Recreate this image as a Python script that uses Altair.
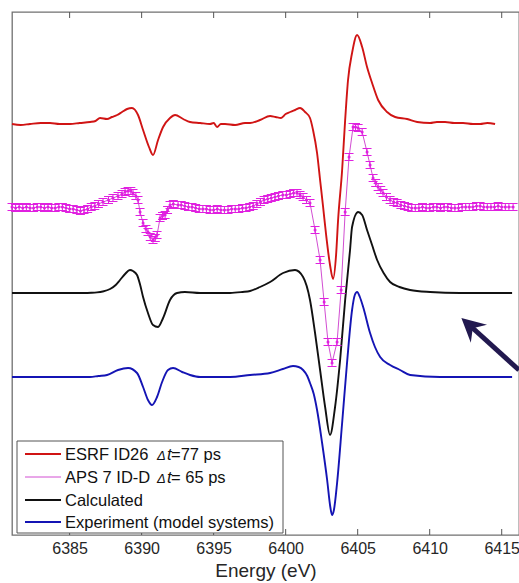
import altair as alt
import pandas as pd

FONT = "Liberation Sans"

# Energy axis (eV)
X_DOMAIN = [6381.0, 6416.2]
X_TICKS = [6385, 6390, 6395, 6400, 6405, 6410, 6415]

# Vertical offsets of the stacked spectra (arb. units)
OFFSETS = {"esrf": 4.11, "aps": 3.28, "calc": 2.42, "exp": 1.58}

# ESRF ID26, Δt = 77 ps  (energy, signal)
ESRF = [(6381.0, 0.00), (6381.6, -0.01), (6382.25, 0.00), (6383.0, 0.01), (6383.64, 0.01),
        (6384.3, 0.00), (6385.03, 0.00), (6385.7, 0.01), (6386.42, 0.02), (6386.8, 0.03),
        (6387.11, 0.06), (6387.6, 0.05), (6387.94, 0.07), (6388.3, 0.09), (6388.64, 0.12),
        (6388.99, 0.15), (6389.33, 0.16), (6389.75, 0.09), (6390.10, -0.06), (6390.51, -0.23),
        (6390.79, -0.31), (6391.14, -0.16), (6391.49, -0.03), (6391.97, 0.06), (6392.32, 0.09),
        (6392.88, 0.05), (6393.36, 0.02), (6394.06, 0.01), (6394.75, 0.00), (6395.0, 0.01),
        (6395.24, -0.03), (6395.5, 0.00), (6395.79, 0.00), (6396.49, -0.01), (6397.18, 0.01),
        (6397.53, 0.01), (6398.22, 0.04), (6398.92, 0.08), (6399.3, 0.07), (6399.68, 0.06),
        (6400.0, 0.10), (6400.31, 0.12), (6400.65, 0.14), (6401.00, 0.16), (6401.35, 0.12),
        (6401.69, 0.06), (6401.90, -0.06), (6402.18, -0.29), (6402.39, -0.56), (6402.60, -0.83),
        (6402.81, -1.11), (6403.08, -1.41), (6403.29, -1.55), (6403.50, -1.31), (6403.64, -0.96),
        (6403.92, -0.46), (6404.13, 0.04), (6404.33, 0.44), (6404.61, 0.71), (6404.96, 0.89),
        (6405.31, 0.77), (6405.65, 0.57), (6406.00, 0.41), (6406.42, 0.24), (6407.04, 0.12),
        (6407.60, 0.07), (6408.43, 0.05), (6409.13, 0.02), (6410.03, 0.01), (6410.5, 0.02),
        (6411.07, 0.02), (6411.7, 0.01), (6412.32, 0.01), (6413.0, 0.00), (6413.50, 0.00),
        (6414.0, 0.01), (6414.54, 0.00)]

# APS 7 ID-D, Δt = 65 ps  (energy, signal) measured points
APS = [(6381.0, 0.00), (6381.25, -0.01), (6381.5, 0.00), (6381.75, -0.01), (6382.0, 0.00),
       (6382.25, -0.01), (6382.5, -0.01), (6382.75, 0.00), (6383.0, 0.00), (6383.25, -0.01),
       (6383.5, 0.00), (6383.75, -0.01), (6384.0, -0.01), (6384.25, 0.00), (6384.5, 0.00),
       (6384.75, -0.01), (6385.0, -0.02), (6385.25, -0.02), (6385.5, -0.03), (6385.75, -0.04),
       (6386.0, -0.03), (6386.25, -0.02), (6386.5, 0.00), (6386.75, 0.01), (6387.0, 0.03),
       (6387.32, 0.05), (6387.7, 0.07), (6388.01, 0.09), (6388.36, 0.11), (6388.64, 0.13),
       (6388.85, 0.15), (6389.06, 0.16), (6389.25, 0.16), (6389.40, 0.14), (6389.6, 0.11),
       (6389.75, 0.07), (6389.89, -0.05), (6390.10, -0.16), (6390.3, -0.22), (6390.44, -0.25),
       (6390.6, -0.30), (6390.79, -0.33), (6390.95, -0.31), (6391.07, -0.28), (6391.28, -0.11),
       (6391.45, -0.09), (6391.63, -0.08), (6391.8, -0.03), (6391.97, 0.02), (6392.2, 0.03),
       (6392.53, 0.02), (6392.75, 0.02), (6393.0, 0.01), (6393.25, 0.00), (6393.5, 0.00),
       (6393.75, -0.01), (6394.0, -0.02), (6394.25, -0.02), (6394.5, -0.02), (6394.75, -0.03),
       (6395.0, -0.03), (6395.25, -0.02), (6395.5, -0.03), (6395.75, -0.03), (6396.0, -0.03),
       (6396.25, -0.02), (6396.5, -0.02), (6396.75, -0.02), (6397.0, -0.01), (6397.25, -0.01),
       (6397.5, 0.00), (6397.75, 0.01), (6398.0, 0.03), (6398.25, 0.05), (6398.5, 0.07),
       (6398.75, 0.08), (6399.0, 0.09), (6399.26, 0.10), (6399.5, 0.11), (6399.8, 0.12),
       (6400.05, 0.12), (6400.31, 0.13), (6400.55, 0.14), (6400.79, 0.14), (6401.0, 0.12),
       (6401.21, 0.10), (6401.45, 0.07), (6401.69, 0.04), (6402.04, -0.23), (6402.39, -0.53),
       (6402.67, -0.95), (6402.94, -1.35), (6403.22, -1.56), (6403.57, -1.35), (6403.85, -0.83),
       (6404.13, -0.05), (6404.40, 0.50), (6404.68, 0.80), (6404.85, 0.80), (6405.03, 0.79),
       (6405.31, 0.75), (6405.65, 0.55), (6405.86, 0.42), (6406.07, 0.29), (6406.25, 0.24),
       (6406.42, 0.20), (6406.6, 0.17), (6406.76, 0.14), (6407.0, 0.10), (6407.25, 0.07),
       (6407.5, 0.05), (6407.74, 0.04), (6408.0, 0.02), (6408.25, 0.01), (6408.5, 0.00),
       (6408.75, -0.01), (6409.0, -0.01), (6409.25, -0.01), (6409.5, 0.00), (6409.75, -0.01),
       (6410.0, -0.01), (6410.25, 0.00), (6410.5, 0.00), (6410.75, -0.01), (6411.0, 0.00),
       (6411.25, 0.00), (6411.5, -0.01), (6411.75, -0.01), (6412.0, -0.01), (6412.25, 0.00),
       (6412.5, 0.00), (6412.75, 0.00), (6413.0, 0.00), (6413.25, 0.01), (6413.5, 0.01),
       (6413.75, 0.00), (6414.0, 0.00), (6414.25, 0.00), (6414.5, 0.00), (6414.75, 0.01),
       (6415.0, 0.00), (6415.25, 0.00), (6415.5, 0.00), (6415.79, 0.00)]
APS_ERR = 0.035

# Calculated difference spectrum (energy, signal)
CALC = [(6381.0, 0.00), (6383.0, 0.00), (6385.0, 0.00), (6386.0, 0.00), (6386.5, 0.002),
        (6386.9, 0.006), (6387.3, 0.015), (6387.81, 0.04), (6388.2, 0.08), (6388.50, 0.13),
        (6388.85, 0.19), (6389.19, 0.23), (6389.40, 0.22), (6389.68, 0.18), (6389.9, 0.08),
        (6390.10, -0.04), (6390.44, -0.20), (6390.79, -0.32), (6391.14, -0.34), (6391.49, -0.25),
        (6391.97, -0.07), (6392.46, 0.00), (6393.01, 0.01), (6394.06, 0.00), (6396.14, 0.00),
        (6397.0, 0.01), (6397.53, 0.02), (6398.22, 0.06), (6398.92, 0.11), (6399.82, 0.20),
        (6400.65, 0.23), (6401.21, 0.16), (6401.69, -0.07), (6402.04, -0.40), (6402.39, -0.77),
        (6402.74, -1.14), (6403.08, -1.42), (6403.43, -1.14), (6403.78, -0.67), (6404.13, -0.07),
        (6404.47, 0.43), (6404.61, 0.66), (6405.03, 0.81), (6405.31, 0.78), (6405.65, 0.63),
        (6406.0, 0.48), (6406.35, 0.33), (6406.8, 0.20), (6407.25, 0.11), (6407.9, 0.06),
        (6408.64, 0.03), (6410.03, 0.01), (6412.11, 0.00), (6415.72, 0.00)]

# Experiment (model systems) (energy, signal)
EXP = [(6381.0, 0.00), (6383.0, 0.00), (6385.0, 0.00), (6386.42, 0.00), (6387.0, 0.01),
       (6387.60, 0.02), (6388.36, 0.07), (6389.06, 0.09), (6389.68, 0.04), (6390.10, -0.10),
       (6390.44, -0.23), (6390.72, -0.28), (6391.07, -0.20), (6391.42, -0.05), (6391.83, 0.07),
       (6392.18, 0.09), (6392.81, 0.05), (6393.36, 0.02), (6394.06, 0.00), (6396.14, 0.00),
       (6397.53, 0.02), (6398.92, 0.04), (6399.8, 0.08), (6400.51, 0.11), (6400.9, 0.10),
       (6401.21, 0.07), (6401.5, 0.01), (6401.69, -0.06), (6401.95, -0.17), (6402.18, -0.33),
       (6402.53, -0.66), (6402.88, -1.03), (6403.1, -1.30), (6403.22, -1.38), (6403.35, -1.33),
       (6403.57, -1.06), (6403.92, -0.46), (6404.26, 0.14), (6404.61, 0.67), (6404.8, 0.82),
       (6404.96, 0.85), (6405.15, 0.80), (6405.38, 0.70), (6405.86, 0.44), (6406.2, 0.30),
       (6406.56, 0.20), (6407.25, 0.12), (6407.94, 0.07), (6408.64, 0.02), (6410.72, 0.00),
       (6415.72, 0.00)]

# Annotation arrow (energy, offset units)
ARROW_TAIL = (6416.2, 1.65)
ARROW_SHAFT_END = (6412.75, 2.10)
ARROW_TIP = (6412.2, 2.17)

COLORS = {"esrf": "#d01414", "aps": "#e020e0", "aps_line": "#d24ed2",
          "calc": "#111111", "exp": "#1414b4", "arrow": "#22194f"}

LEGEND_ROWS = [
    ("ESRF ID26", "=77 ps", COLORS["esrf"], 1.8),
    ("APS 7 ID-D", "= 65 ps", COLORS["aps_line"], 1.0),
    ("Calculated", "", COLORS["calc"], 1.8),
    ("Experiment (model systems)", "", COLORS["exp"], 1.8),
]


def spectrum(points, key):
    return pd.DataFrame({"E": [p[0] for p in points],
                         "y": [p[1] + OFFSETS[key] for p in points]})


x_enc = alt.X("E:Q", scale=alt.Scale(domain=X_DOMAIN, nice=False, zero=False),
              axis=alt.Axis(values=X_TICKS, format="d", title="Energy (eV)", ticks=False,
                            domain=False, grid=False, labelFontSize=16, labelPadding=5,
                            labelColor="#262626", titleFontSize=19, titleFontWeight="normal",
                            titleColor="#262626", titlePadding=5, labelFont=FONT, titleFont=FONT))
y_scale = alt.Scale(domain=[0, 5.23], nice=False, zero=False)


def y_enc(field):
    return alt.Y(f"{field}:Q", scale=y_scale, axis=None)


esrf = spectrum(ESRF, "esrf")
calc = spectrum(CALC, "calc")
expt = spectrum(EXP, "exp")
aps = spectrum(APS, "aps")
aps["lo"] = aps["y"] - APS_ERR
aps["hi"] = aps["y"] + APS_ERR

layers = []

# inward tick marks on top and bottom edges
tick_df = pd.DataFrame({"E": X_TICKS})
layers.append(alt.Chart(tick_df).mark_rule(color="#555555", strokeWidth=1).encode(
    x=x_enc, y=alt.value(523), y2=alt.value(517)))
layers.append(alt.Chart(tick_df).mark_rule(color="#555555", strokeWidth=1).encode(
    x=x_enc, y=alt.value(0), y2=alt.value(6)))

layers.append(alt.Chart(expt).mark_line(color=COLORS["exp"], strokeWidth=1.9,
                                        interpolate="monotone").encode(x=x_enc, y=y_enc("y")))
layers.append(alt.Chart(calc).mark_line(color=COLORS["calc"], strokeWidth=1.9,
                                        interpolate="monotone").encode(x=x_enc, y=y_enc("y")))

# APS data: connecting line, error bars with caps, markers
layers.append(alt.Chart(aps).mark_line(color=COLORS["aps_line"], strokeWidth=1).encode(x=x_enc, y=y_enc("y")))
layers.append(alt.Chart(aps).mark_rule(color=COLORS["aps"], strokeWidth=1).encode(
    x=x_enc, y=y_enc("lo"), y2="hi:Q"))
for cap in ("lo", "hi"):
    layers.append(alt.Chart(aps).mark_tick(color=COLORS["aps"], orient="horizontal", size=9,
                                           thickness=1, opacity=1).encode(x=x_enc, y=y_enc(cap)))
layers.append(alt.Chart(aps).mark_point(color=COLORS["aps"], filled=True, size=9, opacity=1).encode(
    x=x_enc, y=y_enc("y")))

layers.append(alt.Chart(esrf).mark_line(color=COLORS["esrf"], strokeWidth=1.9,
                                        interpolate="monotone").encode(x=x_enc, y=y_enc("y")))

# annotation arrow
shaft = pd.DataFrame({"E": [ARROW_TAIL[0]], "y": [ARROW_TAIL[1]],
                      "E2": [ARROW_SHAFT_END[0]], "y2": [ARROW_SHAFT_END[1]]})
layers.append(alt.Chart(shaft).mark_rule(color=COLORS["arrow"], strokeWidth=5, strokeCap="butt").encode(
    x=x_enc, y=y_enc("y"), x2="E2:Q", y2="y2:Q"))
head = pd.DataFrame({"E": [ARROW_TIP[0]], "y": [ARROW_TIP[1]]})
layers.append(alt.Chart(head).mark_point(
    shape="M0,0 L0.95,1.85 L0,1.2 L-0.95,1.85 Z", size=650, angle=312, filled=True,
    color=COLORS["arrow"], opacity=1).encode(x=x_enc, y=y_enc("y")))

# legend box
one = pd.DataFrame({"k": [0]})
layers.append(alt.Chart(one).mark_rect(fill="white", stroke="#555555", strokeWidth=1).encode(
    x=alt.value(5), x2=alt.value(271), y=alt.value(429), y2=alt.value(521)))
row_y = [442, 465, 488, 510]
for (label, suffix, color, sw), ry in zip(LEGEND_ROWS, row_y):
    layers.append(alt.Chart(one).mark_rule(color=color, strokeWidth=sw).encode(
        x=alt.value(13), x2=alt.value(49), y=alt.value(ry)))
    layers.append(alt.Chart(one).mark_text(text=label, font=FONT, fontSize=16.5, align="left",
                                           baseline="middle", color="#111111").encode(
        x=alt.value(53), y=alt.value(ry + 1)))
    if suffix:
        layers.append(alt.Chart(one).mark_text(text="Δ", font=FONT, fontSize=13, fontStyle="italic",
                                               align="left", baseline="middle", color="#111111").encode(
            x=alt.value(145), y=alt.value(ry + 2)))
        layers.append(alt.Chart(one).mark_text(text="t", font=FONT, fontSize=16.5, fontStyle="italic",
                                               align="left", baseline="middle", color="#111111").encode(
            x=alt.value(155), y=alt.value(ry + 1)))
        layers.append(alt.Chart(one).mark_text(text=suffix, font=FONT, fontSize=16.5, align="left",
                                               baseline="middle", color="#111111").encode(
            x=alt.value(159), y=alt.value(ry + 1)))

chart = alt.layer(*layers).properties(
    width=507, height=523,
    autosize=alt.AutoSizeParams(type="none"),
    padding={"left": 12, "top": 12, "right": 0, "bottom": 48},
    background="white",
).configure_view(stroke="#707070", strokeWidth=1.3)

chart.save("out.html", embed_options={"renderer": "svg", "actions": False})
